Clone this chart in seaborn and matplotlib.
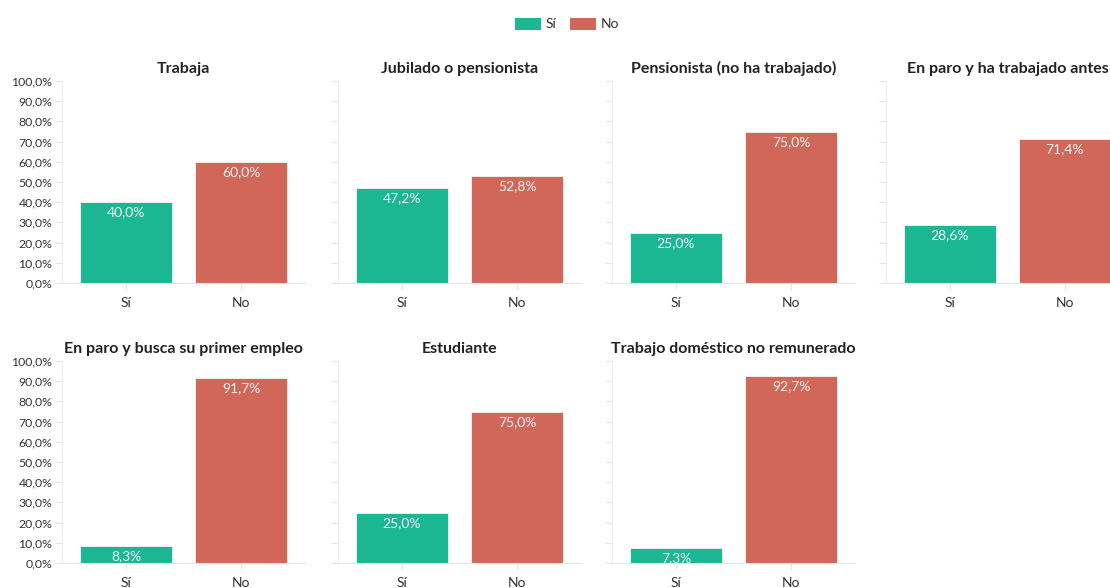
import matplotlib
matplotlib.use("Agg")
import matplotlib.pyplot as plt
import seaborn as sns
import pandas as pd
from matplotlib.patches import Patch

categories = ["Trabaja", "Jubilado o pensionista", "Pensionista (no ha trabajado)",
              "En paro y ha trabajado antes", "En paro y busca su primer empleo",
              "Estudiante", "Trabajo doméstico no remunerado"]
answers = ["Sí", "No"]
si_values = [40.0, 47.2, 25.0, 28.6, 8.3, 25.0, 7.3]
no_values = [60.0, 52.8, 75.0, 71.4, 91.7, 75.0, 92.7]
y_ticks = [0, 10, 20, 30, 40, 50, 60, 70, 80, 90, 100]

colors = {"Sí": "#1ab792", "No": "#d16759"}

sns.set_theme(style="white")
plt.rcParams['font.family'] = ['Lato', 'DejaVu Sans']

W, H = 1110, 588
fig = plt.figure(figsize=(W / 100, H / 100), dpi=100)

def fmt(v):
    return f"{v:.1f}".replace(".", ",") + "%"

col_left = [62, 338, 612, 886]
row_base = [283, 563]
ax_w = 243
ax_h = 202

for i, cat in enumerate(categories):
    r, c = divmod(i, 4)
    left = col_left[c]
    base = row_base[r]
    ax = fig.add_axes([left / W, (H - base) / H, ax_w / W, ax_h / H])
    df = pd.DataFrame({"resp": answers, "val": [si_values[i], no_values[i]]})
    sns.barplot(data=df, x="resp", y="val", hue="resp", palette=colors,
                order=answers, hue_order=answers, width=0.8, legend=False,
                saturation=1, ax=ax, edgecolor="#f4f4f4", linewidth=0.6)
    ax.set_xlim(-0.557, 1.557)
    ax.set_ylim(0, 100)
    ax.set_yticks(y_ticks)
    if c == 0:
        ax.set_yticklabels([fmt(t) for t in y_ticks], fontsize=8.8, color="#333333")
    else:
        ax.set_yticklabels([])
    ax.set_xlabel("")
    ax.set_ylabel("")
    ax.tick_params(axis="y", length=5, width=0.8, color="#e6e6e6", pad=2, left=True)
    ax.tick_params(axis="x", length=5, width=0.8, color="#e6e6e6", pad=5,
                   labelsize=10, labelcolor="#333333", bottom=True)
    for s in ["top", "right"]:
        ax.spines[s].set_visible(False)
    ax.spines["left"].set_color("#eeeeee")
    ax.spines["left"].set_linewidth(0.8)
    ax.spines["bottom"].set_color("#e6e6e6")
    ax.spines["bottom"].set_linewidth(0.8)
    if c == 3:
        # title kept inside the figure edge, as in the reference
        ax.set_title(cat, fontsize=11.5, fontweight="bold", color="#222222", pad=6,
                     x=(1109 - left) / ax_w, ha="right")
    else:
        ax.set_title(cat, fontsize=11.5, fontweight="bold", color="#222222", pad=6)
    for j, v in enumerate([si_values[i], no_values[i]]):
        ax.annotate(fmt(v), xy=(j, v), xytext=(0, -3), textcoords="offset points",
                    ha="center", va="top", fontsize=10, color="#f3f3f3")
    ax.set_facecolor("none")

handles = [Patch(facecolor=colors[a], edgecolor="none", label=a) for a in answers]
fig.legend(handles=handles, loc="center", bbox_to_anchor=(567 / W, 1 - 24 / H), ncol=2,
           frameon=False, fontsize=10, handlelength=1.9, handleheight=1.0,
           handletextpad=0.3, columnspacing=1.0, labelcolor="#333333")

fig.savefig("out.png", dpi=100)
